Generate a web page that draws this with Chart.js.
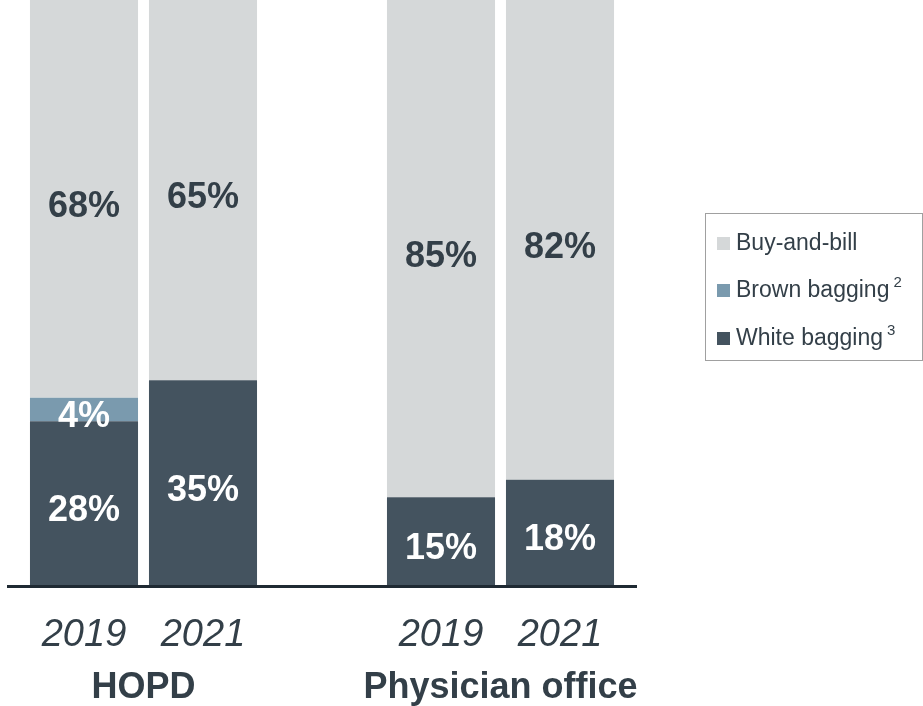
<!DOCTYPE html>
<html>
<head>
<meta charset="utf-8">
<script src="https://cdn.jsdelivr.net/npm/chart.js@4.4.0/dist/chart.umd.min.js"></script>
<style>
  body { margin: 0; background: #fff; }
  #wrap { position: relative; width: 923px; height: 706px; overflow: hidden; }
  #legend {
    position: absolute; left: 705px; top: 213px; width: 216px; height: 146px;
    border: 1px solid #a0a0a0; font-family: "Liberation Sans", Arial, sans-serif;
    font-size: 23px; color: #333f48;
  }
  .item { position: absolute; left: 11px; height: 26px; line-height: 26px; white-space: nowrap; }
  .box { display: inline-block; width: 13px; height: 13px; margin-right: 6px; vertical-align: 0px; }
  .item sup { font-size: 15px; vertical-align: 10px; line-height: 0; margin-left: 4px; }
</style>
</head>
<body>
<div id="wrap">
  <canvas id="chart" width="923" height="706"></canvas>
  <div id="legend"></div>
</div>
<script>
// categories (empty slot separates the two groups)
const years = ['2019', '2021', '', '2019', '2021'];
const groups = ['HOPD', 'Physician office'];
const groupSlots = [[0, 1], [3, 4]];

// series values, in percent
const whiteBagging = [28, 35, null, 15, 18];
const brownBagging = [4, 0, null, 0, 0];
const buyAndBill = [68, 65, null, 85, 82];

const seriesNames = ['Buy-and-bill', 'Brown bagging', 'White bagging'];
const seriesNotes = ['', '2', '3'];

const colors = {
  buy: '#d5d8d9',
  brown: '#7a9aae',
  white: '#44535f',
  text: '#333f48',
  axis: '#1f2a33'
};
const font = '"Liberation Sans", Arial, sans-serif';

// legend, built from the series names
const legendColors = [colors.buy, colors.brown, colors.white];
const legendTops = [15, 62, 110];
document.getElementById('legend').innerHTML = seriesNames.map((name, i) =>
  '<div class="item" style="top:' + legendTops[i] + 'px"><span class="box" style="background:' +
  legendColors[i] + '"></span>' + name + (seriesNotes[i] ? '<sup>' + seriesNotes[i] + '</sup>' : '') + '</div>'
).join('');

const labelsPlugin = {
  id: 'labelsPlugin',
  afterDatasetsDraw(chart) {
    const ctx = chart.ctx;
    const area = chart.chartArea;
    const x = chart.scales.x;

    // baseline
    ctx.save();
    ctx.strokeStyle = colors.axis;
    ctx.lineWidth = 3;
    ctx.beginPath();
    ctx.moveTo(7, area.bottom + 1.5);
    ctx.lineTo(637, area.bottom + 1.5);
    ctx.stroke();

    // values in the bars
    ctx.textAlign = 'center';
    ctx.textBaseline = 'middle';
    ctx.font = 'bold 36px ' + font;
    chart.data.datasets.forEach((ds, di) => {
      chart.getDatasetMeta(di).data.forEach((bar, i) => {
        const v = ds.data[i];
        if (!v) return;
        const top = Math.max(bar.y, area.top);
        ctx.fillStyle = ds.labelColor;
        ctx.fillText(v + '%', bar.x, (top + bar.base) / 2 + 8);
      });
    });

    // year ticks
    ctx.font = 'italic 38px ' + font;
    ctx.fillStyle = colors.text;
    years.forEach((y, i) => {
      if (y) ctx.fillText(y, x.getPixelForValue(i), 635);
    });

    // group names
    ctx.font = 'bold 36px ' + font;
    groups.forEach((g, gi) => {
      const [a, b] = groupSlots[gi];
      const cx = (x.getPixelForValue(a) + x.getPixelForValue(b)) / 2;
      ctx.fillText(g, cx, 688);
    });
    ctx.restore();
  }
};

new Chart(document.getElementById('chart'), {
  type: 'bar',
  data: {
    labels: years,
    datasets: [
      { label: seriesNames[2], data: whiteBagging, backgroundColor: colors.white, labelColor: '#ffffff' },
      { label: seriesNames[1], data: brownBagging, backgroundColor: colors.brown, labelColor: '#ffffff' },
      { label: seriesNames[0], data: buyAndBill, backgroundColor: colors.buy, labelColor: colors.text }
    ]
  },
  options: {
    responsive: false,
    animation: false,
    events: [],
    barPercentage: 0.908,
    categoryPercentage: 1,
    layout: { padding: { left: 24.5, right: 303.5, top: 0, bottom: 121 } },
    plugins: {
      legend: { display: false },
      tooltip: { enabled: false }
    },
    scales: {
      x: { stacked: true, display: false },
      y: { stacked: true, display: false, min: 0, max: 100 }
    }
  },
  plugins: [labelsPlugin]
});
</script>
</body>
</html>
